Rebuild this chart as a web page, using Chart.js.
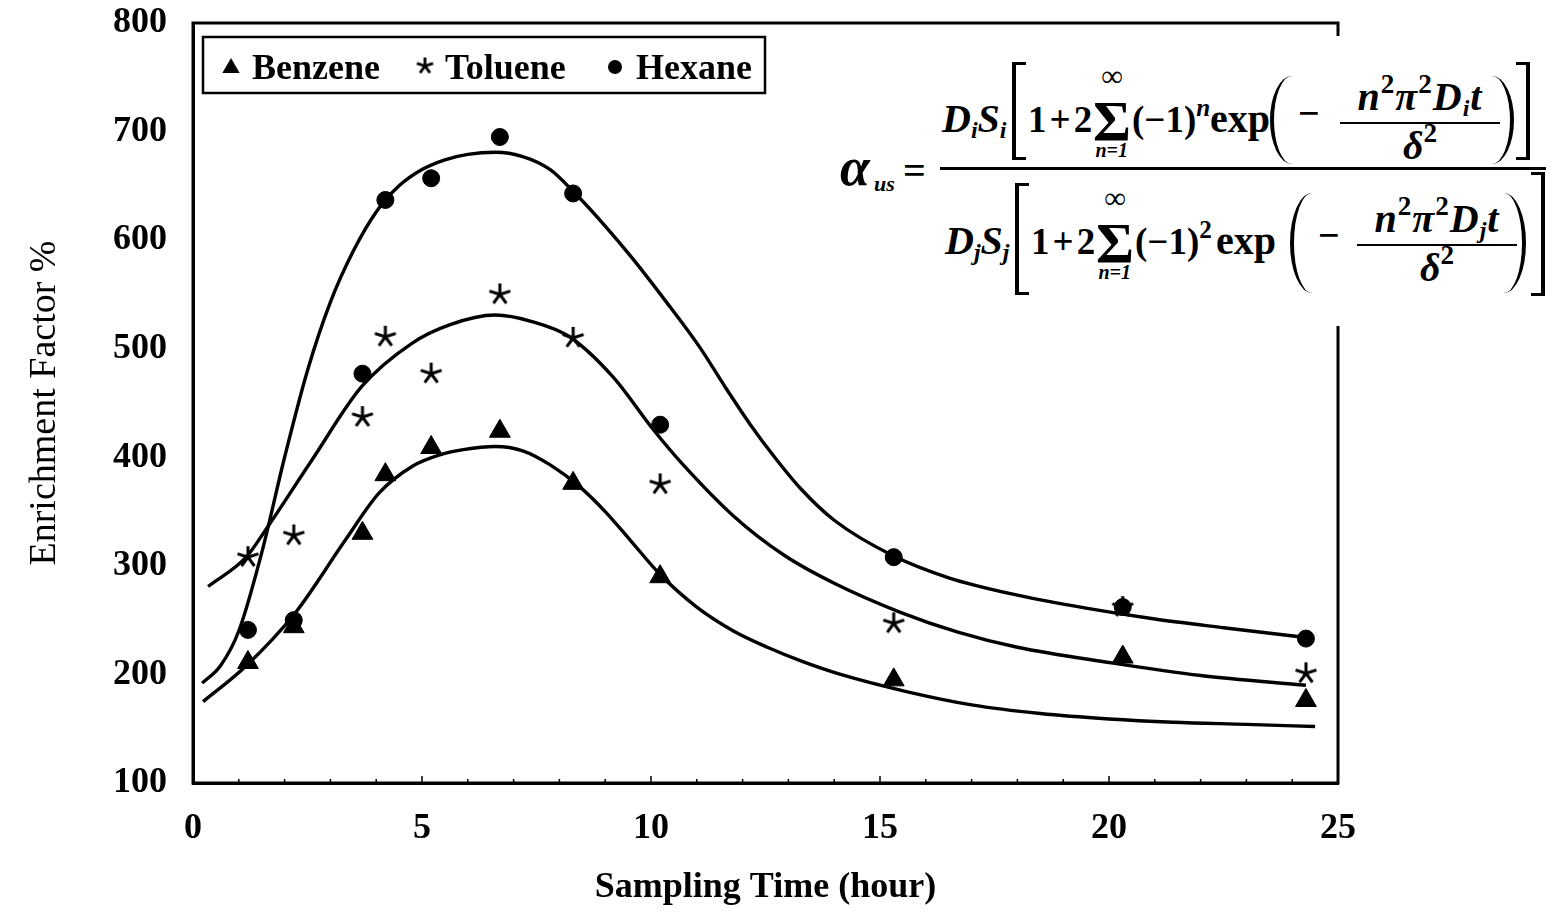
<!DOCTYPE html>
<html><head><meta charset="utf-8">
<script src="https://cdn.jsdelivr.net/npm/chart.js@4/dist/chart.umd.min.js"></script>
<style>
html,body{margin:0;padding:0;background:#fff;width:1552px;height:913px;overflow:hidden;}
#wrap{position:relative;width:1552px;height:913px;}
#c{position:absolute;left:0;top:0;}
#fbg{position:absolute;left:835px;top:36px;width:717px;height:290px;background:#fff;}
.t{position:absolute;white-space:nowrap;line-height:1;font-family:"Liberation Serif","Times New Roman",serif;font-weight:bold;color:#000;}
.bi{font-style:italic;}
.t sup{font-size:0.68em;vertical-align:0.62em;line-height:0;font-style:normal;}
.t sub{font-size:0.6em;vertical-align:-0.25em;line-height:0;}
.br{position:absolute;border:3px solid #000;box-sizing:border-box;}
.pl{position:absolute;box-sizing:border-box;}
.ln{position:absolute;background:#000;}
</style>
</head><body>
<div id="wrap"><canvas id="c" width="1552" height="913"></canvas><div id="fbg"></div></div>
<script>
// ---- data ----
const xTicks = [0, 5, 10, 15, 20, 25];
const yTicks = [100, 200, 300, 400, 500, 600, 700, 800];
const sampleHours = [1.2, 2.2, 3.7, 4.2, 5.2, 6.7, 8.3, 10.2, 15.3, 20.3, 24.3];
const benzene = [211, 244, 330, 384, 409, 424, 376, 290, 195, 216, 176];
const toluene = [308, 328, 437, 511, 477, 550, 510, 375, 247, 262, 201];
const hexane  = [241, 250, 477, 637, 657, 695, 643, 430, 308, 262, 233];

// fitted curves
const benzeneFitX = [0.22, 1.14, 2.24, 3.33, 4.06, 4.8, 5.37, 5.9, 6.6, 7.2, 7.8, 8.44, 9.0, 9.54, 10.2, 11.0, 11.8, 12.54, 13.3, 14.14, 15.6, 17.0, 18.5, 20.0, 21.4, 23.0, 24.5];
const benzeneFitY = [175, 207, 257, 324, 367, 392, 402, 407, 410, 406, 393, 373, 350, 324, 292, 262, 240, 225, 212, 200, 184, 172, 164, 159, 156, 154, 152];
const tolueneFitX = [0.33, 1.16, 1.6, 2.59, 3.68, 4.78, 5.6, 6.6, 7.4, 8.22, 9.17, 10.04, 10.64, 11.8, 12.9, 14.0, 15.46, 16.7, 18.0, 20.0, 22.0, 24.3];
const tolueneFitY = [281, 308, 334, 397, 465, 505, 522, 531, 525, 511, 474, 426, 396, 346, 310, 284, 257, 239, 225, 211, 199, 190];
const hexaneFitX = [0.2, 0.6, 1.0, 1.5, 2.0, 2.5, 3.0, 3.5, 4.0, 4.5, 5.0, 5.5, 6.0, 6.6, 7.2, 7.8, 8.3, 9.0, 9.6, 10.3, 11.07, 11.6, 12.17, 12.7, 13.27, 14.0, 15.3, 16.5, 18.0, 19.5, 21.0, 22.5, 24.3];
const hexaneFitY = [192, 208, 240, 312, 400, 480, 543, 590, 626, 650, 665, 674, 679, 681, 677, 665, 645, 613, 583, 545, 501, 466, 430, 400, 371, 342, 309, 289, 273, 261, 251, 243, 234];

const legendLabels = ['Benzene', 'Toluene', 'Hexane'];

// ---- helpers ----
const pts = (xs, ys) => xs.map((x, i) => ({x: x, y: ys[i]}));
const SERIF = '"Liberation Serif","Times New Roman",serif';

function makeStar(size, lw) {
  const cv = document.createElement('canvas');
  cv.width = size; cv.height = size;
  const g = cv.getContext('2d');
  g.strokeStyle = '#000'; g.lineWidth = lw; g.lineCap = 'butt';
  const c = size / 2, r = size / 2 - 1;
  g.beginPath();
  for (let k = 0; k < 5; k++) {
    const a = -Math.PI / 2 + k * 2 * Math.PI / 5;
    g.moveTo(c, c); g.lineTo(c + r * Math.cos(a), c + r * Math.sin(a));
  }
  g.stroke();
  return cv;
}
const starImg = makeStar(24, 3);
const starLegend = makeStar(19, 2.8);

const curve = (xs, ys) => ({
  data: pts(xs, ys), showLine: true, borderColor: '#000', borderWidth: 3.4,
  pointRadius: 0, pointHoverRadius: 0, cubicInterpolationMode: 'monotone', fill: false, order: 2
});
const marks = (ys, style, r) => ({
  data: pts(sampleHours, ys), showLine: false, pointStyle: style, pointRadius: r,
  backgroundColor: '#000', borderColor: '#000', borderWidth: 1, order: 1
});

const framePlugin = {
  id: 'frame',
  afterDraw(chart) {
    const {ctx, chartArea: a, scales: {x}} = chart;
    ctx.save();
    ctx.strokeStyle = '#000';
    ctx.lineWidth = 3;
    ctx.strokeRect(a.left, a.top, a.right - a.left, a.bottom - a.top);
    // small inward ticks on the x axis
    ctx.lineWidth = 1.5;
    for (let v = 1; v < 25; v++) {
      const px = x.getPixelForValue(v);
      const L = v % 5 === 0 ? 7 : 4;
      ctx.beginPath(); ctx.moveTo(px, a.bottom); ctx.lineTo(px, a.bottom - L); ctx.stroke();
    }
    // legend box
    ctx.lineWidth = 2.5;
    ctx.strokeRect(203, 37, 562, 56);
    ctx.fillStyle = '#000';
    const tr = 10, tx = 231, ty = 68;
    ctx.beginPath();
    ctx.moveTo(tx, ty - tr);
    ctx.lineTo(tx + tr * Math.sin(2 * Math.PI / 3), ty - tr * Math.cos(2 * Math.PI / 3));
    ctx.lineTo(tx + tr * Math.sin(4 * Math.PI / 3), ty - tr * Math.cos(4 * Math.PI / 3));
    ctx.closePath(); ctx.fill();
    ctx.drawImage(starLegend, 425 - 9.5, 66 - 9.5);
    ctx.beginPath(); ctx.arc(615, 67, 7, 0, Math.PI * 2); ctx.fill();
    ctx.font = 'bold 36px ' + SERIF;
    ctx.textBaseline = 'alphabetic';
    ctx.textAlign = 'left';
    ctx.fillText(legendLabels[0], 252, 79);
    ctx.fillText(legendLabels[1], 445, 79);
    ctx.fillText(legendLabels[2], 636, 79);
    ctx.restore();
  }
};

new Chart(document.getElementById('c'), {
  type: 'scatter',
  data: {
    datasets: [
      curve(benzeneFitX, benzeneFitY),
      curve(tolueneFitX, tolueneFitY),
      curve(hexaneFitX, hexaneFitY),
      marks(benzene, 'triangle', 12),
      marks(toluene, starImg, 12),
      marks(hexane, 'circle', 8.5)
    ]
  },
  options: {
    responsive: false, animation: false,
    layout: {padding: {top: 23, right: 214, left: 0, bottom: 0}},
    plugins: {legend: {display: false}, tooltip: {enabled: false}},
    scales: {
      x: {
        type: 'linear', min: 0, max: 25,
        afterBuildTicks: s => { s.ticks = xTicks.map(v => ({value: v})); },
        afterFit: s => { s.height = 130; s.paddingLeft = 0; s.paddingRight = 0; },
        grid: {display: false, drawTicks: false},
        border: {display: true, color: '#000', width: 3},
        ticks: {color: '#000', font: {family: SERIF, size: 36, weight: 'bold'}, padding: 24, maxRotation: 0},
        title: {display: true, text: 'Sampling Time (hour)', color: '#000',
                font: {family: SERIF, size: 36, weight: 'bold'}, padding: {top: 0, bottom: 4}}
      },
      y: {
        type: 'linear', min: 100, max: 800,
        afterBuildTicks: s => { s.ticks = yTicks.map(v => ({value: v})); },
        afterFit: s => { s.width = 193; s.paddingTop = 0; s.paddingBottom = 0; },
        grid: {display: false, drawTicks: false},
        border: {display: true, color: '#000', width: 3},
        ticks: {color: '#000', font: {family: SERIF, size: 36, weight: 'bold'}, padding: 26},
        title: {display: true, text: 'Enrichment Factor %', color: '#000',
                font: {family: SERIF, size: 38, weight: 'normal'}, padding: {top: 22, bottom: 0}}
      }
    }
  },
  plugins: [framePlugin]
});

// ---- formula (text) ----
const wrap = document.getElementById('wrap');
function T(x, base, html, size, italic, anchor, extra) {
  const s = document.createElement('div');
  s.className = 't' + (italic ? ' bi' : '');
  s.style.fontSize = size + 'px';
  if (extra) s.style.cssText += extra;
  s.innerHTML = html;
  s.style.top = (base - 0.8375 * size) + 'px';
  wrap.appendChild(s);
  s.style.left = (anchor === 'c' ? x - s.offsetWidth / 2 : x) + 'px';
}
function BR(x, y, w, h, side) {
  const d = document.createElement('div');
  d.className = 'br';
  d.style.cssText += `left:${x}px;top:${y}px;width:${w}px;height:${h}px;` + (side === 'l' ? 'border-right:none;border-left-width:4px;' : 'border-left:none;border-right-width:4px;');
  wrap.appendChild(d);
}
function PA(x, y, w, h, side) {
  const d = document.createElement('div');
  d.className = 'pl';
  d.style.cssText += `left:${x}px;top:${y}px;width:${w}px;height:${h}px;` +
    (side === 'l' ? `border-left:4px solid #000;border-radius:${w}px 0 0 ${w}px / ${h/2}px 0 0 ${h/2}px;`
                  : `border-right:4px solid #000;border-radius:0 ${w}px ${w}px 0 / 0 ${h/2}px ${h/2}px 0;`);
  wrap.appendChild(d);
}
function LN(x, y, w, h) {
  const d = document.createElement('div');
  d.className = 'ln';
  d.style.cssText += `left:${x}px;top:${y}px;width:${w}px;height:${h}px;`;
  wrap.appendChild(d);
}
T(840, 185, 'α', 54, true);
T(874, 191, 'us', 22, true);
T(903, 184, '=', 40, false);
LN(940, 167, 606, 3);
function part(B, sub, pw, o) {
  T(o.d, B, 'D<sub>' + sub + '</sub>S<sub>' + sub + '</sub>', 40, true);
  BR(o.b1, o.by, 14, o.bh, 'l');
  T(o.d + 86, B, '1&#8202;+&#8202;2', 37, false);
  T(o.d + 170, B + 10, 'Σ', 58, false, 'c');
  T(o.d + 170, B - 46, '∞', 30, false, 'c');
  T(o.d + 170, B + 25, 'n=1', 20, true, 'c');
  T(o.d + 190, B, '(−1)<sup>' + pw + '</sup>', 37, false);
  T(o.exp, B, 'exp', 40, false);
  PA(o.p1, o.py, 22, o.ph, 'l');
  T(o.p1 + 28, B - 6, '−', 38, false);
  T(o.fc, B - 22, 'n<sup>2</sup>π<sup>2</sup>D<sub>' + sub + '</sub>t', 40, true, 'c', 'letter-spacing:1px;');
  LN(o.fc - 80, B - 10, 160, 2);
  T(o.fc, B + 27, 'δ<sup>2</sup>', 40, true, 'c');
  PA(o.p2, o.py, 22, o.ph, 'r');
  BR(o.b2, o.by2, 14, o.bh2, 'r');
}
part(132, 'i', '<i>n</i>', {d: 942, b1: 1012, by: 62, bh: 98, exp: 1210, p1: 1270, py: 76, ph: 88, fc: 1420, p2: 1492, b2: 1516, by2: 62, bh2: 98});
part(254, 'j', '2', {d: 945, b1: 1015, by: 183, bh: 112, exp: 1216, p1: 1290, py: 193, ph: 100, fc: 1437, p2: 1504, b2: 1531, by2: 172, bh2: 124});
</script>
</body></html>
